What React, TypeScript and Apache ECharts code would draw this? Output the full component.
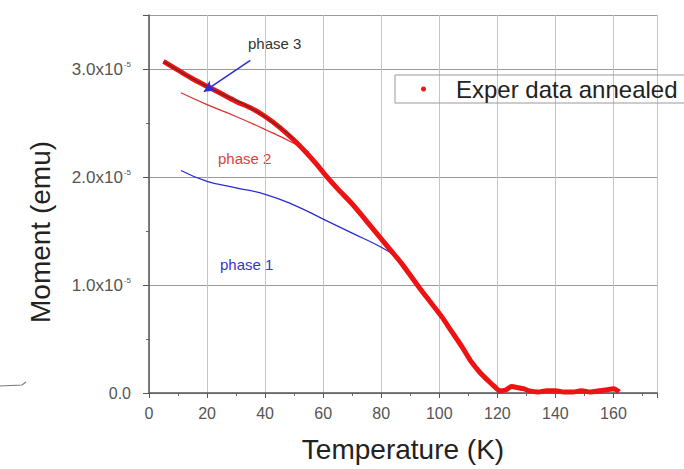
import React, { useEffect, useRef } from "react";
import * as echarts from "echarts";

// Experimental data (annealed sample): temperature (K) and moment (x1e-5 emu)
const tempExp = [5, 10, 15, 20, 25, 30, 35, 40, 45, 50, 54, 58, 61, 65, 70, 75, 79, 83, 87, 90, 93, 97, 101, 104, 108, 111, 114, 117, 119, 121, 123, 125, 127, 129, 131, 134, 137, 140, 143, 146, 149, 152, 155, 158, 160, 162];
const momentExp = [3.07, 2.99, 2.91, 2.84, 2.77, 2.7, 2.64, 2.56, 2.46, 2.34, 2.23, 2.11, 2.01, 1.89, 1.75, 1.59, 1.46, 1.33, 1.2, 1.09, 0.98, 0.84, 0.7, 0.58, 0.42, 0.29, 0.19, 0.11, 0.06, 0.02, 0.03, 0.06, 0.05, 0.04, 0.02, 0.01, 0.02, 0.02, 0.01, 0.01, 0.02, 0.01, 0.02, 0.03, 0.04, 0.01];

// Phase fits
const tempP1 = [11, 20, 30, 40, 50, 60, 70, 80, 86];
const momentP1 = [2.06, 1.96, 1.9, 1.84, 1.74, 1.61, 1.48, 1.35, 1.25];
const tempP2 = [11, 20, 30, 40, 50, 55];
const momentP2 = [2.78, 2.67, 2.56, 2.44, 2.31, 2.23];
const tempP3 = [5, 15, 25, 35, 45, 50];
const momentP3 = [3.07, 2.91, 2.77, 2.64, 2.46, 2.35];

// Arrow pointing at phase 3 (start, end) in data coordinates
const arrowStart = [34.9, 3.08];
const arrowEnd = [18.9, 2.79];

const xTicks = [0, 20, 40, 60, 80, 100, 120, 140, 160];
const yTicks = [0, 1, 2, 3];

const FONT = "'Liberation Sans', Arial, Helvetica, sans-serif";

const pairs = (xs: number[], ys: number[]) => xs.map((x, i) => [x, ys[i]]);

export default function App() {
  const ref = useRef<HTMLDivElement>(null);
  useEffect(() => {
    if (!ref.current) return;
    const chart = echarts.init(ref.current, undefined, { renderer: "svg" });
    chart.setOption({
      animation: false,
      backgroundColor: "#ffffff",
      textStyle: { fontFamily: FONT },
      grid: { left: 149, right: 27, top: 15, bottom: 76, containLabel: false },
      legend: {
        data: ["Exper data annealed"],
        left: 395,
        top: 75,
        padding: [2, 12, 2, 26],
        borderColor: "#999",
        borderWidth: 1,
        borderRadius: 0,
        icon: "circle",
        itemWidth: 5,
        itemHeight: 5,
        lineStyle: { width: 1 },
        formatter: "{g|}{t|{name}}",
        textStyle: {
          fontFamily: FONT,
          rich: {
            g: { width: 25 },
            t: { fontSize: 24, color: "#222", fontFamily: FONT, lineHeight: 28 },
          },
        },
      },
      xAxis: {
        type: "value",
        min: 0,
        max: 175,
        interval: 20,
        name: "Temperature (K)",
        nameLocation: "middle",
        nameGap: 42,
        nameTextStyle: { fontSize: 28, color: "#222", fontFamily: FONT },
        axisLine: { show: true, lineStyle: { color: "#555", width: 1.5 } },
        axisTick: { show: true, inside: false, length: 5, lineStyle: { color: "#555" } },
        minorTick: { show: true, splitNumber: 2, length: 3, lineStyle: { color: "#666" } },
        splitLine: { show: true, lineStyle: { color: "#c4c4c4", width: 1 } },
        axisLabel: {
          fontSize: 16,
          color: "#555",
          margin: 12,
          showMaxLabel: false,
          formatter: (v: number) => (xTicks.includes(v) ? String(v) : ""),
        },
      },
      yAxis: {
        type: "value",
        min: 0,
        max: 3.5,
        interval: 1,
        axisLine: { show: true, lineStyle: { color: "#555", width: 1.5 } },
        axisTick: { show: true, inside: false, length: 6, lineStyle: { color: "#555" } },
        minorTick: { show: true, splitNumber: 2, length: 3, lineStyle: { color: "#666" } },
        splitLine: { show: true, lineStyle: { color: "#9a9a9a", width: 1 } },
        axisLabel: {
          fontSize: 16,
          color: "#555",
          margin: 18,
          showMaxLabel: false,
          formatter: (v: number) => {
            if (!yTicks.includes(v)) return "";
            if (v === 0) return "0.0";
            return `{m|${v.toFixed(1)}x10}{s|-5}`;
          },
          rich: {
            m: { fontSize: 17, color: "#555", fontFamily: FONT },
            s: { fontSize: 8, color: "#555", fontFamily: FONT, verticalAlign: "top", padding: [0, 0, 9, 1] },
          },
        },
      },
      series: [
        {
          name: "phase 1",
          type: "line",
          data: pairs(tempP1, momentP1),
          smooth: true,
          showSymbol: false,
          lineStyle: { color: "#2b2bd6", width: 1.3 },
          itemStyle: { color: "#2b2bd6" },
          z: 2,
        },
        {
          name: "phase 2",
          type: "line",
          data: pairs(tempP2, momentP2),
          smooth: true,
          showSymbol: false,
          lineStyle: { color: "#e03030", width: 1.3 },
          itemStyle: { color: "#e03030" },
          z: 2,
        },
        {
          name: "Exper data annealed",
          type: "line",
          data: pairs(tempExp, momentExp),
          showSymbol: false,
          symbol: "circle",
          smooth: 0.3,
          lineStyle: { color: "#ee1212", width: 5 },
          itemStyle: { color: "#ee1212" },
          z: 3,
        },
        {
          name: "phase 3",
          type: "line",
          data: pairs(tempP3, momentP3),
          smooth: true,
          showSymbol: false,
          lineStyle: { color: "#333", width: 1 },
          itemStyle: { color: "#333" },
          z: 4,
        },
        {
          name: "arrow",
          type: "line",
          data: [],
          z: 5,
          markLine: {
            silent: true,
            symbol: ["none", "arrow"],
            symbolSize: [9, 11],
            label: { show: false },
            lineStyle: { color: "#2f2fd8", width: 1.6, type: "solid" },
            data: [[{ coord: arrowStart }, { coord: arrowEnd }]],
          },
        },
      ],
      graphic: [
        {
          type: "text",
          x: 248,
          y: 43,
          style: { text: "phase 3", fontSize: 15, fill: "#333", fontFamily: FONT, verticalAlign: "middle" },
        },
        {
          type: "text",
          x: 218,
          y: 158,
          style: { text: "phase 2", fontSize: 15, fill: "#e04040", fontFamily: FONT, verticalAlign: "middle" },
        },
        {
          type: "text",
          x: 220,
          y: 264,
          style: { text: "phase 1", fontSize: 15, fill: "#3636cc", fontFamily: FONT, verticalAlign: "middle" },
        },
        {
          type: "text",
          x: 40,
          y: 232,
          rotation: Math.PI / 2,
          style: {
            text: "Moment (emu)",
            fontSize: 28,
            fill: "#222",
            fontFamily: FONT,
            align: "center",
            verticalAlign: "middle",
          },
        },
        {
          type: "polyline",
          shape: { points: [[0, 386], [22, 385], [26, 382]] },
          style: { stroke: "#777", lineWidth: 1.2, fill: "none" },
        },
      ],
    });
    return () => chart.dispose();
  }, []);
  return (
    <div
      ref={ref}
      style={{ position: "fixed", left: 0, top: 0, width: 684, height: 469, background: "#fff" }}
    />
  );
}
